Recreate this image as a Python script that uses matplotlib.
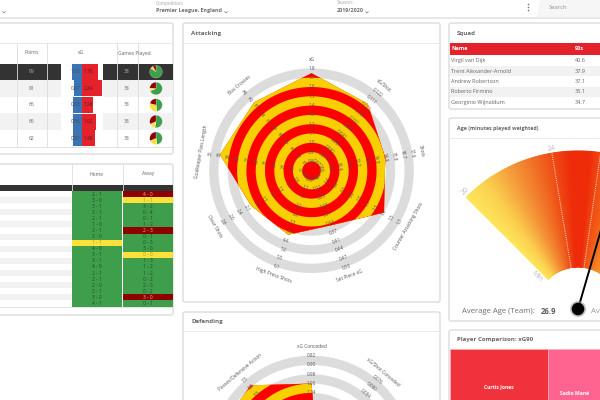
import numpy as np
import matplotlib
matplotlib.use("Agg")
import matplotlib.pyplot as plt
from matplotlib.patches import FancyBboxPatch, Rectangle, Polygon, Circle
from matplotlib.colors import LinearSegmentedColormap

plt.rcParams['font.family'] = ['Open Sans', 'DejaVu Sans']

# ---------- data ----------
league_points = ['99', '81', '66', '66', '62']
xg_against = [1.03, 0.87, 0.93, 0.96, 0.97]
xg_for = [1.78, 2.24, 1.28, 1.62, 1.48]
games = ['38', '38', '38', '38', '38']
wins = [32, 26, 18, 20, 18]
draws = [3, 3, 12, 6, 8]
losses = [3, 9, 8, 12, 12]

home_scores = ['2 - 1', '3 - 0', '3 - 1', '2 - 1', '2 - 1', '1 - 0', '2 - 1', '2 - 0', '1 - 1', '4 - 0',
               '3 - 1', '3 - 1', '4 - 0', '2 - 1', '2 - 1', '2 - 0', '2 - 1', '3 - 0', '4 - 1']
away_scores = ['4 - 0', '1 - 1', '3 - 2', '0 - 4', '0 - 1', '1 - 2', '2 - 3', '0 - 1', '0 - 3', '3 - 0',
               '0 - 0', '1 - 3', '1 - 2', '1 - 2', '0 - 2', '2 - 3', '0 - 2', '3 - 0', '0 - 1']
home_results = ['W'] * 8 + ['D'] + ['W'] * 10
away_results = ['L', 'D', 'W', 'W', 'W', 'W', 'L', 'W', 'W', 'W', 'D', 'W', 'W', 'W', 'W', 'W', 'W', 'L', 'W']

squad_names = ['Virgil van Dijk', 'Trent Alexander-Arnold', 'Andrew Robertson', 'Roberto Firmino', 'Georginio Wijnaldum']
squad_90s = ['40.6', '37.9', '37.1', '35.1', '34.7']

attack_names = ['xG', 'xG/Shot', 'Shots', 'Counter Attacking Shots', 'Set Piece xG',
                'High Press Shots', 'Clear Shots', 'Goalkeeper Pass Length', 'Box Crosses']
attack_ticks = [
    ['1.8', '1.7', '1.6', '1.5', '1.4', '1.3', '1.2', '1.1', '1.0', '0.9', '0.8'],
    ['0.122', '0.117', '0.112', '0.107', '0.102', '0.097', '0.092', '0.087', '0.082', '0.077', '0.072'],
    ['17.6', '16.7', '15.8', '14.9', '14.0', '13.1', '12.2', '11.3', '10.4', '9.5', '8.6'],
    ['1.7', '1.5', '1.4', '1.3', '1.1', '1.0', '0.9', '0.7', '0.6', '0.4', '0.3'],
    ['0.50', '0.47', '0.44', '0.41', '0.37', '0.34', '0.31', '0.28', '0.25', '0.22', '0.19'],
    ['6.1', '5.5', '5.0', '4.4', '3.9', '3.3', '2.8', '2.2', '1.7', '1.1', '0.6'],
    ['2.8', '2.6', '2.4', '2.1', '1.9', '1.7', '1.5', '1.3', '1.1', '0.9', '0.6'],
    ['31', '30', '29', '28', '27', '26', '25', '24', '23', '22', '21'],
    ['26', '25', '23', '22', '21', '19', '18', '17', '15', '14', '13'],
]
attack_values = [1.75, 0.114, 14.95, 1.4, 0.347, 4.06, 2.0, 30.0, 24.2]

defend_names = ['xG Conceded', 'xG/Shot Conceded', '', '', '', '', '', '', 'Passes/Defensive Action']
hidden_ticks = ['11', '10', '9', '8', '7', '6', '5', '4', '3', '2', '1']
defend_ticks = [
    ['0.82', '0.90', '0.98', '1.06', '1.14', '1.22', '1.30', '1.38', '1.46', '1.54', '1.62'],
    ['0.076', '0.080', '0.084', '0.088', '0.092', '0.096', '0.100', '0.104', '0.108', '0.112', '0.116'],
    hidden_ticks, hidden_ticks, hidden_ticks, hidden_ticks, hidden_ticks, hidden_ticks,
    ['7.5', '8.0', '8.5', '9.0', '9.5', '10.0', '10.5', '11.0', '11.5', '12.0', '12.5'],
]
defend_values = [1.06, 0.116, 4, 5, 5, 6, 8, 10.9, 7.9]

age_team = 26.9
age_ticks = [20, 24, 26]
treemap_players = ['Curtis Jones', 'Sadio Mané']
treemap_xg90 = [98, 52]

# ---------- colours ----------
INK = '#666666'
BORDER = '#dcdcdc'
DARK = '#333333'
STRIPE = '#f2f2f2'
GREEN = '#3f9e4b'
YELLOW = '#fde03a'
MAROON = '#8f0000'
RED = '#e3222c'
BLUE = '#3a74b4'
RESULT_COL = {'W': GREEN, 'D': YELLOW, 'L': MAROON}

fig = plt.figure(figsize=(6, 4), dpi=100, facecolor='white')
bg = fig.add_axes([0, 0, 1, 1])
bg.set_xlim(0, 600)
bg.set_ylim(400, 0)
bg.axis('off')
bg.set_zorder(0)


def px_axes(x0, y0, x1, y1, **kw):
    ax = fig.add_axes([x0 / 600, 1 - y1 / 400, (x1 - x0) / 600, (y1 - y0) / 400], **kw)
    ax.patch.set_alpha(0)
    ax.set_zorder(1)
    return ax


def rect(x0, y0, x1, y1, color, z=1, lw=0):
    bg.add_patch(Rectangle((x0, y0), x1 - x0, y1 - y0, facecolor=color, edgecolor=color, lw=lw, zorder=z))


def card(x0, y0, x1, y1):
    bg.add_patch(FancyBboxPatch((x0, y0), x1 - x0, y1 - y0, boxstyle='round,pad=0,rounding_size=2',
                                facecolor='white', edgecolor=BORDER, lw=1.0, zorder=0.5))


def label(x, y, s, size=4.0, color=INK, ha='center', va='center', weight='normal', target=None, **kw):
    (target or bg).text(x, y, s, fontsize=size, color=color, ha=ha, va=va, fontweight=weight, zorder=6, **kw)


def chevron(x, y):
    bg.plot([x - 1.3, x, x + 1.3], [y - 0.8, y + 0.4, y - 0.8], color='#777777', lw=0.5, zorder=5)


# ---------- top bar ----------
rect(0, 17, 600, 19, '#e8e8e8')
bg.add_patch(Polygon([[540, 0], [600, 0], [600, 17], [537, 17]], facecolor='#f6f6f6', edgecolor='none', zorder=1))
label(156, 3, 'Competition:', 3.4, '#a8a8a8', ha='left')
label(156, 10.5, 'Premier League, England', 3.9, '#707070', ha='left', weight='bold')
chevron(226, 12.5)
label(337, 3, 'Season:', 3.4, '#a8a8a8', ha='left')
label(337, 10.5, '2019/2020', 3.9, '#707070', ha='left', weight='bold')
chevron(367, 12.5)
chevron(4, 12.5)
for dot_y in (4.5, 7.5, 10.5):
    bg.add_patch(Circle((528.5, dot_y), 0.8, facecolor='#777777', zorder=5))
label(549, 7.5, 'Search', 4.2, '#909090', ha='left')

# ---------- league table ----------
card(-5, 23, 173, 154)
rect(0, 43, 173, 43.8, '#e6e6e6', 2)
row_y = [63.5, 80, 97, 113, 130, 146.5]
rect(0, row_y[0], 173, row_y[1], DARK, 2)
for i in (1, 3):
    rect(0, row_y[i], 61, row_y[i + 1], STRIPE, 2)
    rect(103, row_y[i], 173, row_y[i + 1], STRIPE, 2)
rect(61, row_y[0], 102.5, row_y[1], 'white', 2.2)
for x in (16.5, 46.5, 116.5, 137.5):
    bg.plot([x, x], [43, 146.5], color='#dddddd', lw=0.6, zorder=3)
bg.plot([0, 173], [146.5, 146.5], color='#dddddd', lw=0.6, zorder=3)
label(31.5, 53, 'Points', 3.6)
label(81.5, 53, 'xG', 3.6)
label(134, 53, 'Games Played', 3.6)

xg_ax = px_axes(46.5, 63.5, 116.5, 146.5)
xg_ax.set_xlim(-35 / 9.1, 35 / 9.1)
xg_ax.set_ylim(5, 0)
xg_ax.axis('off')
rows = np.arange(len(xg_for)) + 0.5
xg_ax.barh(rows, -np.array(xg_against), height=0.97, color=BLUE)
xg_ax.barh(rows, xg_for, height=0.97, color=RED)
for i, r in enumerate(rows):
    xg_ax.text(-0.62, r, f'{xg_against[i]:.2f}', fontsize=3.4, color='#4a4a4a', ha='center', va='center')
    xg_ax.text(0.75, r, f'{xg_for[i]:.2f}', fontsize=3.4, color='#5a1a1a', ha='center', va='center')
    yc = (row_y[i] + row_y[i + 1]) / 2
    col = '#bbbbbb' if i == 0 else INK
    label(31.5, yc, league_points[i], 3.6, col)
    label(127, yc, games[i], 3.6, col)
    pie = px_axes(148.5, yc - 7.5, 163.5, yc + 7.5)
    pie.pie([wins[i], draws[i], losses[i]], colors=[GREEN, YELLOW, MAROON], startangle=90,
            counterclock=False, radius=1.05, wedgeprops=dict(edgecolor='white', linewidth=0.15))
    pie.set_aspect('equal')

# ---------- results grid ----------
card(-5, 164, 173, 315)
rect(0, 184.5, 173, 191, DARK, 2)
label(97, 174, 'Home', 3.6)
label(148, 174, 'Away', 3.6)
for x in (71.5, 122.5):
    bg.plot([x, x], [164, 306.5], color='#dddddd', lw=0.6, zorder=3)
score_ax = px_axes(72, 191, 173, 306.5)
score_ax.set_xlim(0, 2)
score_ax.set_ylim(len(home_scores), 0)
score_ax.axis('off')
grid_rows = np.arange(len(home_scores)) + 0.5
score_ax.barh(grid_rows, [0.99] * 19, left=0, height=1.0, color=[RESULT_COL[r] for r in home_results])
score_ax.barh(grid_rows, [0.99] * 19, left=1.01, height=1.0, color=[RESULT_COL[r] for r in away_results])
for i, r in enumerate(grid_rows):
    hc = '#a89a30' if home_results[i] == 'D' else '#1f4a26'
    score_ax.text(0.5, r, home_scores[i], fontsize=3.5, color=hc, ha='center', va='center')
    tc = '#e8b0b0' if away_results[i] == 'L' else ('#a89a30' if away_results[i] == 'D' else '#1f4a26')
    score_ax.text(1.5, r, away_scores[i], fontsize=3.5, color=tc, ha='center', va='center')
    if i % 2 == 1:
        yy = 191 + i * 115.5 / 19
        rect(0, yy, 71.5, yy + 115.5 / 19, STRIPE, 2)
bg.plot([0, 173], [306.5, 306.5], color='#dddddd', lw=0.6, zorder=3)

# ---------- radars ----------
LEVEL_PX = 9.3
N_LEVELS = 11


def radar(cx, cy, names, ticks, values):
    rmax = 13
    rad = rmax * LEVEL_PX
    ax = px_axes(cx - rad, cy - rad, cx + rad, cy + rad, projection='polar')
    ax.set_theta_zero_location('N')
    ax.set_theta_direction(-1)
    ax.set_ylim(0, rmax)
    ax.axis('off')
    circle = np.linspace(0, 2 * np.pi, 240)
    spokes = np.deg2rad(np.arange(len(names)) * 40.0)
    lv = []
    for t, v in zip(ticks, values):
        nums = np.array([float(s) for s in t])
        levels = np.arange(N_LEVELS, 0, -1)
        order = np.argsort(nums)
        lv.append(np.interp(v, nums[order], levels[order]))
    shape = ax.fill(np.r_[spokes, spokes[0]], np.r_[lv, lv[0]], facecolor='none', edgecolor='none', zorder=1)[0]
    for level in range(N_LEVELS, 0, -1):
        grey_on = level % 2 == 1
        ax.fill(circle, np.full_like(circle, level), color='#dcdcdc' if grey_on else 'white', lw=0, zorder=2)
    for level in range(N_LEVELS, 0, -1):
        c = '#fe0000' if level % 2 == 1 else '#f8d000'
        p = ax.fill(circle, np.full_like(circle, level), color=c, lw=0, zorder=3)[0]
        p.set_clip_path(shape)
    for k, name in enumerate(names):
        t_deg = k * 40.0
        rot = -t_deg if (t_deg <= 90 or t_deg >= 270) else 180 - t_deg
        th = np.deg2rad(t_deg)
        for j, s in enumerate(ticks[k]):
            level = N_LEVELS - j
            py = cy - level * LEVEL_PX * np.cos(th)
            if py < 398 and name:
                ax.text(th, level, s, fontsize=3.3, color='#555555', rotation=rot, ha='center', va='center',
                        rotation_mode='anchor', zorder=5, clip_on=False)
        py = cy - 12 * LEVEL_PX * np.cos(th)
        if py < 398 and name:
            ax.text(th, 12, name, fontsize=3.5, color='#555555', rotation=rot, ha='center', va='center',
                    rotation_mode='anchor', zorder=5, clip_on=False)


card(183, 23, 440, 302)
rect(183.5, 43, 439.5, 43.8, '#ececec', 2)
label(191, 33, 'Attacking', 4.4, INK, ha='left', weight='bold')
radar(311.5, 170.7, attack_names, attack_ticks, attack_values)

card(183, 312, 440, 420)
rect(183.5, 331, 439.5, 331.8, '#ececec', 2)
label(191, 321.5, 'Defending', 4.4, INK, ha='left', weight='bold')
radar(311.5, 458, defend_names, defend_ticks, defend_values)

# ---------- squad ----------
card(449, 23, 620, 109)
label(457, 33, 'Squad', 4.4, INK, ha='left', weight='bold')
rect(449.5, 43, 600, 55, RED, 2)
label(451, 49, 'Name', 4.0, 'white', ha='left', weight='bold')
label(575, 49, '90s', 4.0, 'white', ha='left', weight='bold')
sq_h = 10.4
for i, (n, m) in enumerate(zip(squad_names, squad_90s)):
    y0 = 55.5 + i * sq_h
    if i % 2 == 1:
        rect(449.5, y0, 600, y0 + sq_h, STRIPE, 2)
    label(451, y0 + sq_h / 2, n, 4.0, INK, ha='left')
    label(575, y0 + sq_h / 2, m, 4.0, INK, ha='left')

# ---------- age gauge ----------
card(449, 118, 620, 321)
rect(449.5, 138, 600, 138.8, '#ececec', 2)
label(457, 128.5, 'Age (minutes played weighted)', 3.8, INK, ha='left', weight='bold')

cx, cy, r_out, r_in = 578, 309, 158, 42
g = px_axes(cx - r_out - 2, cy - r_out - 2, cx + r_out + 2, cy + r_out + 2, projection='polar')
g.set_theta_zero_location('N')
g.set_theta_direction(-1)
g.set_ylim(0, r_out + 2)
g.axis('off')


def age_to_theta(a):
    return np.deg2rad(-45 + (a - 20) * 8.875)


cmap = LinearSegmentedColormap.from_list('age', [
    (0.0, '#fde65c'), (0.10, '#fbd04f'), (0.22, '#f4983a'), (0.33, '#f06a22'),
    (0.40, '#ee4a14'), (0.47, '#ee2c0a'), (0.55, '#ee2c0a'), (0.60, '#f04e14'), (0.75, '#f58020'), (1.0, '#fbb040')])
sweep = np.deg2rad(np.linspace(-45, 45, 181))
theta_grid, r_grid = np.meshgrid(sweep, [r_in, r_out])
g.pcolormesh(theta_grid, r_grid, (theta_grid - sweep[0]) / (sweep[-1] - sweep[0]),
             cmap=cmap, vmin=0, vmax=1, shading='gouraud')
for a in age_ticks[1:]:
    th = age_to_theta(a)
    g.plot([th, th], [r_in, r_out], color='white', lw=0.7, ls=(0, (1, 1.2)), alpha=0.85)
th = age_to_theta(age_team)
g.plot([th, th], [0, r_out + 2], color='black', lw=1.4, zorder=5)

top = px_axes(0, 0, 600, 400)
top.set_xlim(0, 600)
top.set_ylim(400, 0)
top.axis('off')
top.set_zorder(3)
label(465.5, 191, '20', 5, '#bcbcbc', rotation=45, target=top)
label(551.5, 148.5, '24', 5, '#bcbcbc', rotation=10, target=top)
label(537, 276, 'Min', 5, '#bcbcbc', rotation=-45, target=top)
top.add_patch(Circle((cx, cy), 8, facecolor='#9a9a9a', edgecolor='none', alpha=0.6, zorder=7))
top.add_patch(Circle((cx, cy), 6.3, facecolor='black', edgecolor='none', zorder=8))
label(462, 311.5, 'Average Age (Team):', 5.6, '#707070', ha='left', target=top)
label(541, 311.5, str(age_team), 5.6, '#606060', ha='left', weight='bold', target=top)
label(591, 311.5, 'Av', 5.6, '#9a9a9a', ha='left', target=top)

# ---------- treemap ----------
card(449, 330, 620, 420)
label(457, 339.5, 'Player Comparison: xG90', 4.4, INK, ha='left', weight='bold')
tm = px_axes(449.5, 349, 600, 400)
tm.set_xlim(0, sum(treemap_xg90))
tm.set_ylim(0, 1)
tm.axis('off')
tm.barh([0.5, 0.5], treemap_xg90, left=[0, treemap_xg90[0]], height=1.0,
        color=['#f0323c', '#ff6490'], edgecolor='#f7b0c0', linewidth=0.4)
tm.text(treemap_xg90[0] / 2, 0.27, treemap_players[0], fontsize=3.6, color='white', ha='center', va='center', fontweight='bold')
tm.text(treemap_xg90[0] + 27, 0.13, treemap_players[1], fontsize=3.6, color='white', ha='center', va='center', fontweight='bold')

fig.savefig('out.png', dpi=100)
